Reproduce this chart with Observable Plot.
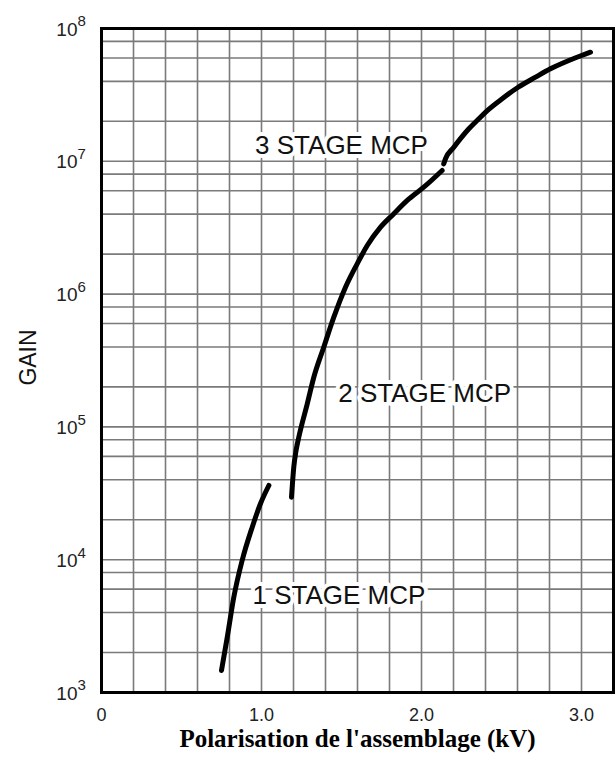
<!DOCTYPE html>
<html>
<head>
<meta charset="utf-8">
<script src="https://cdn.jsdelivr.net/npm/d3@7"></script>
<script src="https://cdn.jsdelivr.net/npm/@observablehq/plot@0.6"></script>
<style>
  html, body { margin: 0; padding: 0; background: #fff; }
  #chart svg { display: block; }
</style>
</head>
<body>
<div id="chart"></div>
<script>
// ---- Data ----
const stage1Kv   = [0.75, 0.786, 0.827, 0.879, 0.942, 0.994, 1.046];
const stage1Gain = [1466, 2606, 5224, 9863, 17580, 26490, 36220];

const stage2Kv   = [1.1875, 1.202, 1.215, 1.233, 1.286, 1.327, 1.389, 1.452, 1.525, 1.598, 1.661, 1.744, 1.827, 1.911, 2.014, 2.129];
const stage2Gain = [29580, 50100, 65300, 83600, 149300, 236600, 398000, 670000, 1.127e6, 1.69e6, 2.32e6, 3.19e6, 4.03e6, 5.07e6, 6.38e6, 8.53e6];

const stage3Kv   = [2.139, 2.15, 2.202, 2.296, 2.358, 2.411, 2.504, 2.604, 2.7125, 2.806, 2.921, 3.0, 3.056];
const stage3Gain = [9.57e6, 1.045e7, 1.276e7, 1.757e7, 2.09e7, 2.41e7, 2.96e7, 3.61e7, 4.30e7, 4.97e7, 5.74e7, 6.26e7, 6.63e7];

const labelText = ["3 STAGE MCP", "2 STAGE MCP", "1 STAGE MCP"];
const labelKv   = [1.5, 2.02, 1.484];
const labelGain = [1.315e7, 1.79e5, 5.37e3];

const xTicks = [0, 1, 2, 3];
const xTickLabels = ["0", "1.0", "2.0", "3.0"];
const yDecades = [3, 4, 5, 6, 7, 8];
const xGrid = [0.2,0.4,0.6,0.8,1.0,1.2,1.4,1.6,1.8,2.0,2.2,2.4,2.6,2.8,3.0];
const yGridMantissa = [1, 2, 4, 6, 8];

const xTitle = "Polarisation de l'assemblage (kV)";
const yTitle = "GAIN";

// ---- Build tables ----
const toRows = (kv, g) => kv.map((k, i) => ({kv: k, gain: g[i]}));
const seg1 = toRows(stage1Kv, stage1Gain);
const seg2 = toRows(stage2Kv, stage2Gain);
const seg3 = toRows(stage3Kv, stage3Gain);
const labels = labelText.map((t, i) => ({t, kv: labelKv[i], gain: labelGain[i]}));
const yGrid = [];
for (const d of yDecades.slice(0, -1)) for (const m of yGridMantissa) {
  const v = m * Math.pow(10, d);
  if (v > 1e3 && v < 1e8) yGrid.push(v);
}
const yTickRows = yDecades.map(d => ({v: Math.pow(10, d), e: String(d)}));

const sans = "Liberation Sans, Arial, sans-serif";

const chart = Plot.plot({
  width: 615,
  height: 758,
  marginLeft: 101,
  marginRight: 2,
  marginTop: 28,
  marginBottom: 66,
  style: {fontFamily: sans, background: "#fff"},
  x: {domain: [0, 3.2]},
  y: {type: "log", domain: [1e3, 1e8], axis: null},
  marks: [
    Plot.ruleX(xGrid, {x: d => d, stroke: "#7a7a7a", strokeWidth: 1.6}),
    Plot.ruleY(yGrid, {y: d => d, stroke: "#7a7a7a", strokeWidth: 1.6}),
    Plot.frame({stroke: "#000", strokeWidth: 3}),
    Plot.axisX({ticks: xTicks, tickSize: 0, tickPadding: 16, fontSize: 18,
      tickFormat: d => xTickLabels[xTicks.indexOf(d)], fill: "#222", label: null}),
    Plot.text(yTickRows, {x: 0, y: "v", text: () => "10", textAnchor: "end", dx: -24, dy: 1,
      fontSize: 19, fill: "#222"}),
    Plot.text(yTickRows, {x: 0, y: "v", text: "e", textAnchor: "start", dx: -24, dy: -7,
      fontSize: 15, fill: "#222"}),
    Plot.text([yTitle], {frameAnchor: "left", textAnchor: "middle", rotate: -90, dx: -73, dy: -3,
      fontSize: 23, fill: "#111"}),
    Plot.text([xTitle], {frameAnchor: "bottom", dy: 54, fontSize: 25, fontWeight: "bold",
      fontFamily: "Liberation Serif, Times New Roman, serif", fill: "#000"}),
    Plot.line(seg1, {x: "kv", y: "gain", stroke: "#000", strokeWidth: 5, curve: "monotone-x"}),
    Plot.line(seg2, {x: "kv", y: "gain", stroke: "#000", strokeWidth: 5, curve: "monotone-x"}),
    Plot.line(seg3, {x: "kv", y: "gain", stroke: "#000", strokeWidth: 5, curve: "monotone-x"}),
    Plot.text(labels, {x: "kv", y: "gain", text: "t", fontSize: 26, fill: "#111",
      stroke: "#fff", strokeWidth: 8, paintOrder: "stroke"})
  ]
});
document.getElementById("chart").appendChild(chart);
</script>
</body>
</html>
